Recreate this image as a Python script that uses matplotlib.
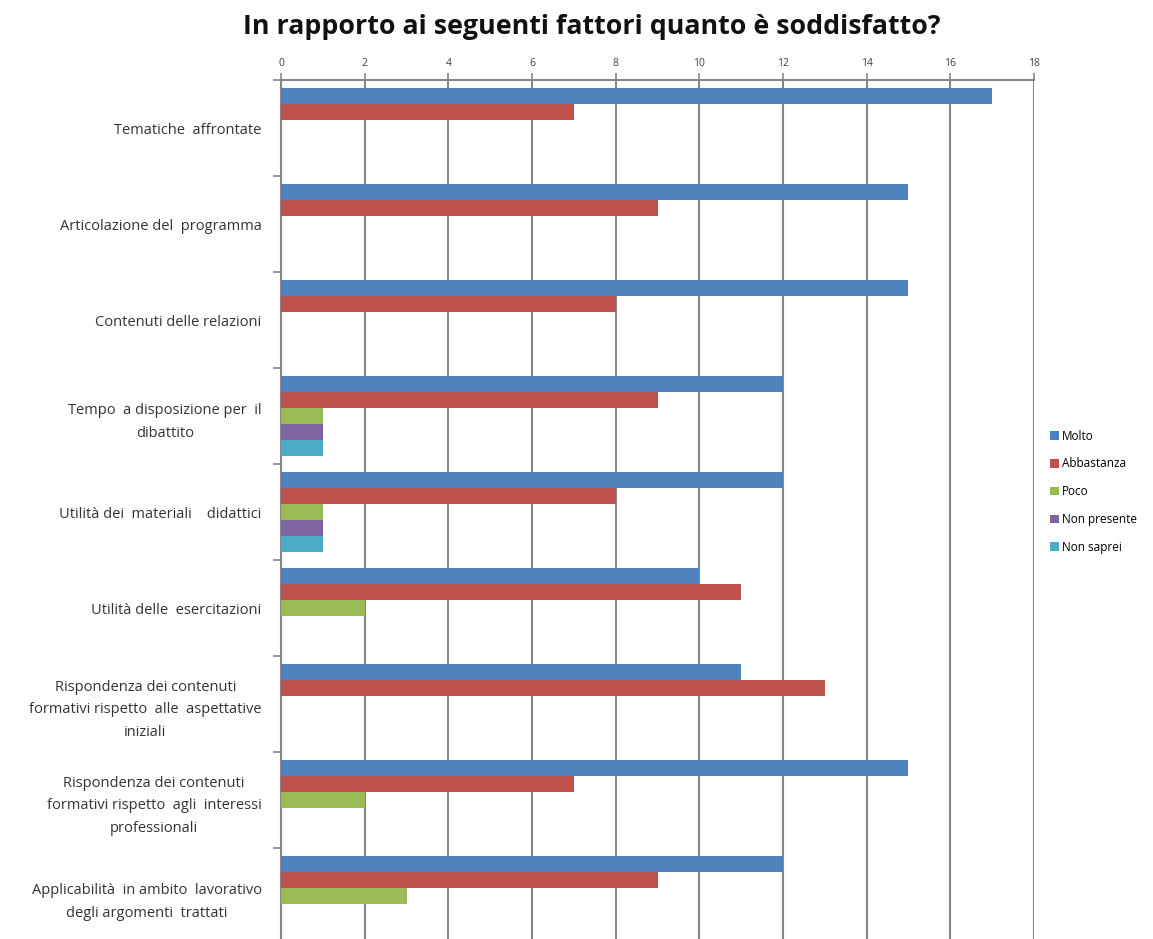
import numpy as np
import matplotlib
matplotlib.use('Agg')
import matplotlib.pyplot as plt

plt.rcParams['font.family'] = ['Open Sans', 'DejaVu Sans']

categories = ['Tematiche  affrontate',
              'Articolazione del  programma',
              'Contenuti delle relazioni',
              'Tempo  a disposizione per  il\ndibattito',
              'Utilità dei  materiali    didattici',
              'Utilità delle  esercitazioni',
              'Rispondenza dei contenuti\nformativi rispetto  alle  aspettative\niniziali',
              'Rispondenza dei contenuti\nformativi rispetto  agli  interessi\nprofessionali',
              'Applicabilità  in ambito  lavorativo\ndegli argomenti  trattati']

series = ['Molto', 'Abbastanza', 'Poco', 'Non presente', 'Non saprei']
molto        = [17, 15, 15, 12, 12, 10, 11, 15, 12]
abbastanza   = [7, 9, 8, 9, 8, 11, 13, 7, 9]
poco         = [0, 0, 0, 1, 1, 2, 0, 2, 3]
non_presente = [0, 0, 0, 1, 1, 0, 0, 0, 0]
non_saprei   = [0, 0, 0, 1, 1, 0, 0, 0, 0]
values = [molto, abbastanza, poco, non_presente, non_saprei]
colors = ['#4F81BD', '#C0504D', '#9BBB59', '#8064A2', '#4BACC6']

fig = plt.figure(figsize=(11.53, 9.39), dpi=100, facecolor='white')
ax = fig.add_axes([281/1153, 1-944/939, (1034-281)/1153, (944-80)/939])

n = len(categories)
h = 1/6.
y0 = np.arange(n)
for j, (name, vals) in enumerate(zip(series, values)):
    ax.barh(y0 + (j+1)*h, vals, height=h, color=colors[j], label=name, zorder=3)

ax.set_xlim(0, 18)
ax.set_ylim(n, 0)
ax.set_xticks(np.arange(0, 19, 2))
ax.xaxis.tick_top()
ax.tick_params(axis='x', colors='#868686', labelcolor='#404040', labelsize=7.5,
               length=5, width=1.2, pad=3)
ax.grid(axis='x', color='#868686', linewidth=1.5, zorder=0)

ax.set_yticks(np.arange(n+1), minor=True)
ax.set_yticks(y0 + 0.5)
ax.set_yticklabels(categories, fontsize=10.5, color='#333333', linespacing=1.7)
for lab in ax.get_yticklabels():
    lab.set_multialignment('center')
ax.tick_params(axis='y', which='major', length=0, pad=14)
ax.tick_params(axis='y', which='minor', length=6, width=1.2, color='#868686')

for s in ['right', 'bottom']:
    ax.spines[s].set_visible(False)
for s in ['top', 'left']:
    ax.spines[s].set_color('#868686')
    ax.spines[s].set_linewidth(1.5)

leg = fig.legend(loc='upper left', bbox_to_anchor=(1045/1153, 1-425/939),
                 frameon=False, fontsize=8.5, handlelength=0.75, handleheight=0.75,
                 handletextpad=0.3, labelspacing=1.25, borderaxespad=0)

fig.text(0.513, 1-27/939, 'In rapporto ai seguenti fattori quanto è soddisfatto?',
         ha='center', va='center', fontsize=19.3, fontweight='bold', color='#111111')

plt.savefig('out.png', dpi=100)
